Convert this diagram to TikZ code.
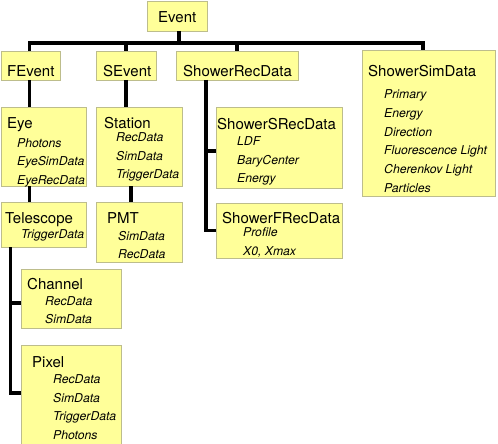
\documentclass[tikz,border=0pt]{standalone}
\usepackage{fontspec}
\setmainfont{TeX Gyre Heros}
\usepackage{tikz}
\usetikzlibrary{calc}
\definecolor{BoxFill}{HTML}{FFFF99}
\definecolor{BoxLine}{HTML}{BDBD8C}

\begin{document}
\begin{tikzpicture}[x=1pt, y=-1pt,
  box/.style={draw=BoxLine, fill=BoxFill, line width=0.8pt, anchor=north west, inner sep=0pt, outer sep=0pt},
  head/.style={anchor=base west, inner sep=0pt, font=\fontsize{15}{18}\selectfont},
  item/.style={anchor=base west, inner sep=0pt, font=\fontsize{12.2}{14}\selectfont\itshape},
  wire/.style={line width=3.2pt, black}]
  \useasboundingbox (0,0) rectangle (498,444);

  % boxes
  \node[box, minimum width=60pt, minimum height=30pt] (event) at (147,1) {};
  \node[box, minimum width=59pt, minimum height=29pt] (fevent) at (1,51) {};
  \node[box, minimum width=60pt, minimum height=29pt] (sevent) at (96,51) {};
  \node[box, minimum width=122pt, minimum height=29pt] (showerrec) at (176,51) {};
  \node[box, minimum width=133pt, minimum height=146pt] (showersim) at (362,50) {};
  \node[box, minimum width=85pt, minimum height=79pt] (eye) at (1,107) {};
  \node[box, minimum width=86pt, minimum height=79pt] (station) at (96,107) {};
  \node[box, minimum width=126pt, minimum height=81pt] (showersrec) at (216,107) {};
  \node[box, minimum width=85pt, minimum height=45pt] (telescope) at (1,202) {};
  \node[box, minimum width=86pt, minimum height=60pt] (pmt) at (96,202) {};
  \node[box, minimum width=126pt, minimum height=55pt] (showerfrec) at (216,203) {};
  \node[box, minimum width=100pt, minimum height=59pt] (channel) at (21,269) {};
  \node[box, minimum width=100pt, minimum height=102pt] (pixel) at (21,345) {};

  % top bus
  \coordinate (bus) at (179,43);
  \draw[wire] ([xshift=2pt]event.south) -- ([xshift=2pt]event.south |- bus);
  \draw[wire] ([xshift=-1pt]fevent.north) |- (bus) -| ([xshift=-5.5pt]showersim.north);
  \draw[wire] (sevent.north) -- (sevent.north |- bus);
  \draw[wire] (showerrec.north) -- (showerrec.north |- bus);

  % FEvent branch
  \draw[wire] ([xshift=-1pt]fevent.south) -- ([xshift=-1pt]fevent.south |- eye.north);
  \draw[wire] ([xshift=-1pt]fevent.south |- eye.south) -- ([xshift=-1pt]fevent.south |- telescope.north);
  \draw[wire] ([xshift=-33pt]telescope.south) |- ([yshift=-4.5pt]channel.west);
  \draw[wire] ([xshift=-33pt]telescope.south) |- ([yshift=3pt]pixel.west);

  % SEvent branch
  \draw[wire] (sevent.south) -- (sevent.south |- station.north);
  \draw[wire] ([xshift=-8pt]station.south) -- ([xshift=-8pt]station.south |- pmt.north);

  % ShowerRecData branch
  \draw[wire] ([xshift=-31pt]showerrec.south) |- ([yshift=-3.5pt]showersrec.west);
  \draw[wire] ([xshift=-31pt]showerrec.south) |- (showerfrec.west);

  % headings
  \node[head] (event-t) at (158,23) {Event};
  \node[head] (fevent-t) at (7,77) {FEvent};
  \node[head] (sevent-t) at (103,77) {SEvent};
  \node[head] (showerrec-t) at (183,77) {ShowerRecData};
  \node[head] (showersim-t) at (368,77) {ShowerSimData};
  \node[head] (eye-t) at (7,128) {Eye};
  \node[head] (station-t) at (104,128) {Station};
  \node[head] (showersrec-t) at (217,129) {ShowerSRecData};
  \node[head] (telescope-t) at (5,223) {Telescope};
  \node[head] (pmt-t) at (107,223) {PMT};
  \node[head] (showerfrec-t) at (222,223) {ShowerFRecData};
  \node[head] (channel-t) at (27,289) {Channel};
  \node[head] (pixel-t) at (32,367) {Pixel};

  % members
  \foreach \txt [count=\i] in {Photons, EyeSimData, EyeRecData}
    \node[item] (eye-\i) at (17,{147+(\i-1)*18.8}) {\txt};
  \foreach \txt [count=\i] in {RecData, SimData, TriggerData}
    \node[item] (station-\i) at (116,{141.7+(\i-1)*18.5}) {\txt};
  \foreach \txt [count=\i] in {LDF, BaryCenter, Energy}
    \node[item] (showersrec-\i) at (237,{145.7+(\i-1)*18.6}) {\txt};
  \foreach \txt [count=\i] in {Primary, Energy, Direction, Fluorescence Light, Cherenkov Light, Particles}
    \node[item] (showersim-\i) at (384,{99+(\i-1)*18.65}) {\txt};
  \node[item] (telescope-1) at (21,238.5) {TriggerData};
  \foreach \txt [count=\i] in {SimData, RecData}
    \node[item] (pmt-\i) at (118,{240+(\i-1)*18.5}) {\txt};
  \foreach \txt [count=\i] in {Profile, {X0, Xmax}}
    \node[item] (showerfrec-\i) at (243,{236+(\i-1)*19}) {\txt};
  \foreach \txt [count=\i] in {RecData, SimData}
    \node[item] (channel-\i) at (45,{305+(\i-1)*18.8}) {\txt};
  \foreach \txt [count=\i] in {RecData, SimData, TriggerData, Photons}
    \node[item] (pixel-\i) at (53,{383.3+(\i-1)*18.7}) {\txt};
\end{tikzpicture}
\end{document}
